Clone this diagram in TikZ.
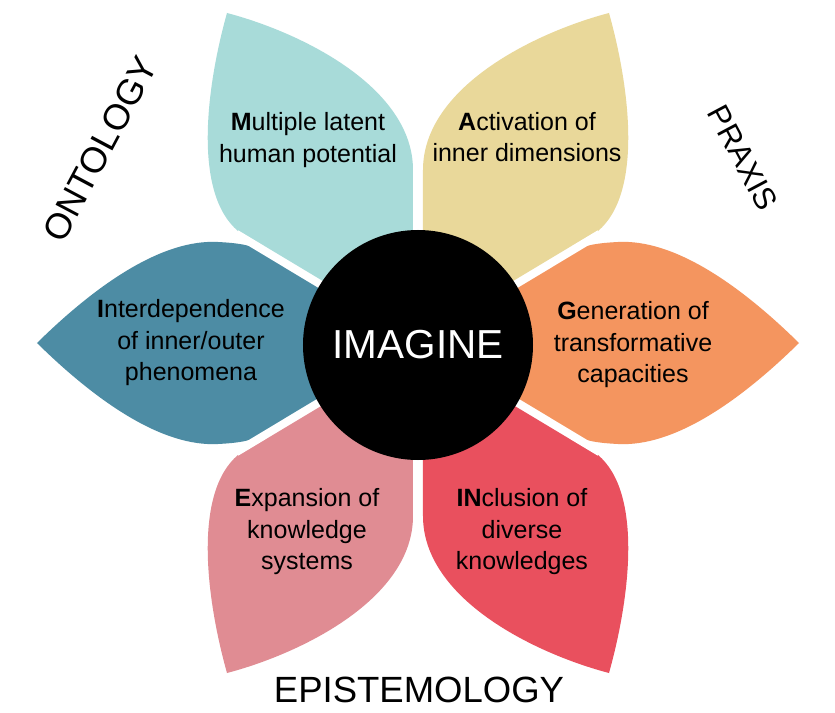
\documentclass[tikz,border=0pt]{standalone}
\usepackage{fontspec}
\setmainfont{Liberation Sans}
\definecolor{cCyan}{HTML}{A8DBD9}
\definecolor{cYellow}{HTML}{E9D89A}
\definecolor{cTeal}{HTML}{4D8CA4}
\definecolor{cOrange}{HTML}{F4955F}
\definecolor{cPink}{HTML}{E08C93}
\definecolor{cRed}{HTML}{E9505E}
\newcommand{\petalUp}[1]{\fill[#1] (-5,0) -- (-5,173) .. controls (-5,255) and (-115,310) .. (-191,330) .. controls (-212,255) and (-225,150) .. (-180,112) -- (0,0) -- cycle;}
\newcommand{\petalSide}[1]{\fill[#1] (0,0) -- (-150,90) .. controls (-166,98) and (-180,100) .. (-200,101) .. controls (-255,104) and (-320,60) .. (-381,0) .. controls (-320,-60) and (-255,-104) .. (-200,-101) .. controls (-180,-100) and (-166,-98) .. (-150,-90) -- cycle;}
\begin{document}
\begin{tikzpicture}[x=1pt,y=1pt,
  lbl/.style={align=center,font=\fontsize{25}{31.5}\selectfont,text=black},
  axislbl/.style={font=\fontsize{36.5}{42}\selectfont,text=black},
  gap/.style={white,line width=8pt}]
\useasboundingbox (-418,-369) rectangle (417,343);
\fill[white] (-418,-369) rectangle (417,343);
% petals
\petalUp{cCyan}
\begin{scope}[xscale=-1]\petalUp{cYellow}\end{scope}
\begin{scope}[yscale=-1]\petalUp{cPink}\end{scope}
\begin{scope}[xscale=-1,yscale=-1]\petalUp{cRed}\end{scope}
\petalSide{cTeal}
\begin{scope}[xscale=-1]\petalSide{cOrange}\end{scope}
% gaps
\coordinate (o) at (0,0);
\foreach \a in {149,31,211,-31}{\draw[gap] (o) -- (\a:212);}
% centre
\node[circle,fill=black,minimum size=230pt,inner sep=0pt] (core) at (0,-2) {};
\node[font=\fontsize{40.5}{48}\selectfont,text=white] (imagine) at (0,-2) {IMAGINE};
% petal labels
\node[lbl] (m) at (-110,203) {\textbf{M}ultiple latent\\human potential};
\node[lbl] (a) at (109,206) {\textbf{A}ctivation of\\inner dimensions};
\node[lbl] (i) at (-227,0) {\textbf{I}nterdependence\\of inner/outer\\phenomena};
\node[lbl] (g) at (215,-2) {\textbf{G}eneration of\\transformative\\capacities};
\node[lbl] (e) at (-111,-189) {\textbf{E}xpansion of\\knowledge\\systems};
\node[lbl] (n) at (104,-189) {\textbf{IN}clusion of\\diverse\\knowledges};
% axis labels
\node[axislbl,font=\fontsize{36}{42}\selectfont,rotate=62] (onto) at (-318,194) {ONTOLOGY};
\node[axislbl,font=\fontsize{31}{36}\selectfont,rotate=-62] (prax) at (325,185) {PRAXIS};
\node[axislbl] (epis) at (1,-347) {EPISTEMOLOGY};
\end{tikzpicture}
\end{document}
